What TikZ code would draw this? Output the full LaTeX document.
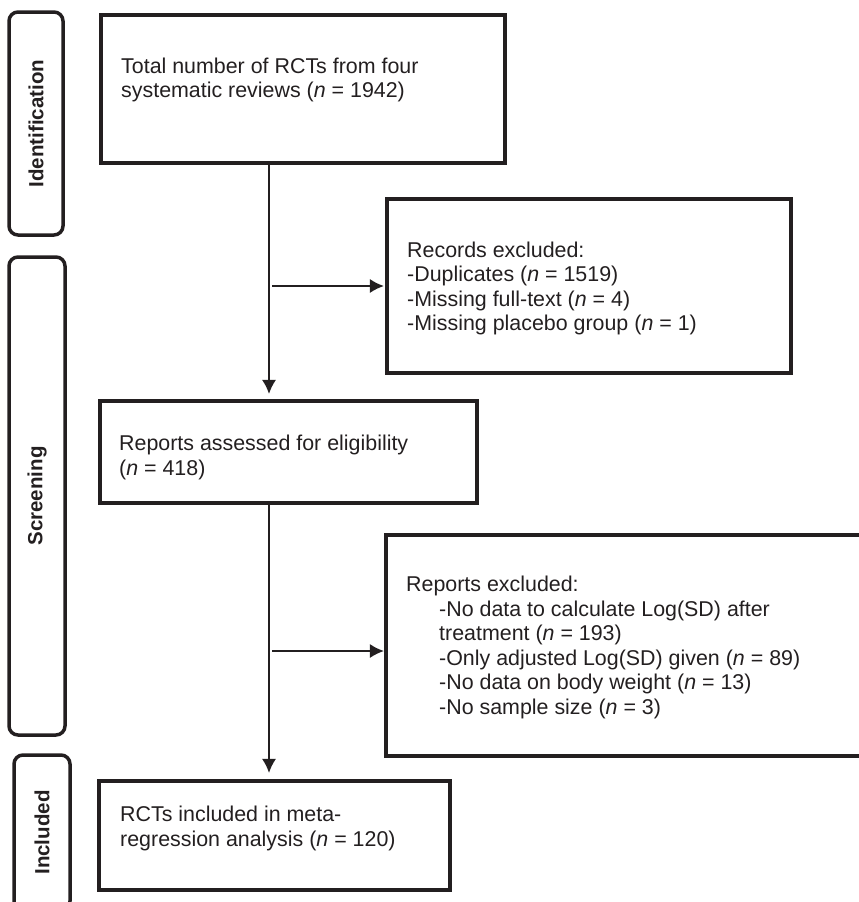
\documentclass[tikz,border=0pt]{standalone}
\usepackage{fontspec}
\setmainfont{Liberation Sans}
\usetikzlibrary{arrows.meta}
\definecolor{ink}{RGB}{35,31,32}
\begin{document}
\begin{tikzpicture}[x=1pt,y=-1pt,
  box/.style={draw=ink,line width=3.2pt,rectangle,inner sep=0pt},
  stage/.style={draw=ink,line width=3.5pt,rectangle,rounded corners=9pt,rotate=90,inner sep=0pt,
    text=ink,font=\fontsize{20.5}{24}\selectfont\bfseries},
  txt/.style={anchor=north west,align=left,inner sep=0pt,text=ink,font=\fontsize{21.4}{24.5}\selectfont},
  conn/.style={draw=ink,line width=1.5pt},
  arr/.style={conn,-{Latex[length=14pt,width=14pt]}}]
\useasboundingbox (0,0) rectangle (859,902);
\clip (0,0) rectangle (859,902);

% stage labels
\node[stage,minimum width=223pt,minimum height=54pt] (sid) at (36,123.5) {Identification};
\node[stage,minimum width=478pt,minimum height=56pt] (sscr) at (37,496) {Screening};
\node[stage,minimum width=155pt,minimum height=56pt] (sinc) at (42,832.5) {Included};

% boxes
\node[box,minimum width=404pt,minimum height=148pt] (b1) at (303,89) {};
\node[box,minimum width=404pt,minimum height=174pt] (rec) at (589,286) {};
\node[box,minimum width=377pt,minimum height=102pt] (ass) at (288.5,452) {};
\node[box,minimum width=486pt,minimum height=221pt] (rep) at (629,645.5) {};
\node[box,minimum width=351pt,minimum height=109pt] (fin) at (274.5,835.5) {};

% texts
\node[txt] (t1) at (121,57.4) {Total number of RCTs from four\\systematic reviews (\textit{n} = 1942)};
\node[txt] (t2) at (407,241.7) {Records excluded:\\-Duplicates (\textit{n} = 1519)\\-Missing full-text (\textit{n} = 4)\\-Missing placebo group (\textit{n} = 1)};
\node[txt] (t3) at (119,435.1) {Reports assessed for eligibility\\(\textit{n} = 418)};
\node[txt] (t4) at (406,576.1) {Reports excluded:\\
\hspace*{33pt}-No data to calculate Log(SD) after\\
\hspace*{33pt}treatment (\textit{n} = 193)\\
\hspace*{33pt}-Only adjusted Log(SD) given (\textit{n} = 89)\\
\hspace*{33pt}-No data on body weight (\textit{n} = 13)\\
\hspace*{33pt}-No sample size (\textit{n} = 3)};
\node[txt] (t5) at (120,806.1) {RCTs included in meta-\\regression analysis (\textit{n} = 120)};

% connectors
\coordinate (cx) at (269,0);
\coordinate (h1) at (272,286);
\coordinate (h2) at (272,651);
\draw[arr,shorten >=5.5pt] (b1.south -| cx) -- (ass.north -| cx);
\draw[arr,shorten >=6.5pt] (ass.south -| cx) -- (fin.north -| cx);
\draw[arr,shorten >=1.5pt] (h1) -- (rec.west |- h1);
\draw[arr,shorten >=0.5pt] (h2) -- (rep.west |- h2);
\end{tikzpicture}
\end{document}
